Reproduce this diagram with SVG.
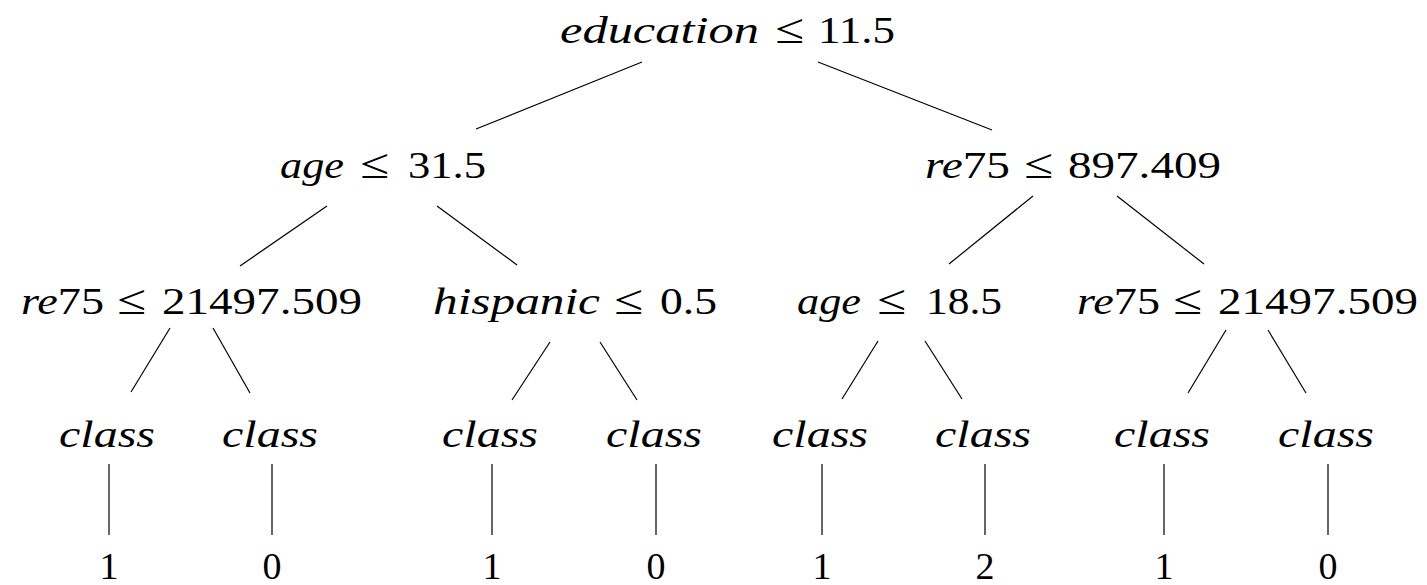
<svg xmlns="http://www.w3.org/2000/svg" width="1427" height="585" viewBox="0 0 1427 585">
<style>
text{font-family:"Liberation Serif","DejaVu Serif",serif;font-size:38px;fill:#000}
.i{font-style:italic}
.le{font-size:42px}
.leaf{text-anchor:middle}
#connectors line{stroke:#000;stroke-width:1.2}
</style>
<rect width="1427" height="585" fill="#fff"/>
<g id="connectors">
<line x1="642" y1="62" x2="476" y2="129"/>
<line x1="818" y1="62" x2="992" y2="130"/>
<line x1="327" y1="206" x2="240" y2="266"/>
<line x1="437" y1="206" x2="517" y2="265"/>
<line x1="1033" y1="196" x2="949" y2="264"/>
<line x1="1117" y1="196" x2="1204" y2="264"/>
<line x1="170" y1="328" x2="131" y2="392"/>
<line x1="213" y1="328" x2="250" y2="393"/>
<line x1="550" y1="342" x2="512" y2="400"/>
<line x1="600" y1="342" x2="637" y2="400"/>
<line x1="878" y1="341" x2="842" y2="399"/>
<line x1="925" y1="341" x2="962" y2="399"/>
<line x1="1226" y1="330" x2="1188" y2="393"/>
<line x1="1268" y1="330" x2="1306" y2="393"/>
<line x1="109" y1="464" x2="109" y2="535"/>
<line x1="272" y1="464" x2="272" y2="535"/>
<line x1="492" y1="464" x2="492" y2="535"/>
<line x1="656" y1="464" x2="656" y2="535"/>
<line x1="822" y1="464" x2="822" y2="535"/>
<line x1="985" y1="464" x2="985" y2="535"/>
<line x1="1164" y1="464" x2="1164" y2="535"/>
<line x1="1328" y1="464" x2="1328" y2="535"/>
</g>
<g id="n-root">
<text class="i" x="560" y="43" textLength="199" lengthAdjust="spacingAndGlyphs">education</text>
<text class="le" x="775" y="43" textLength="29" lengthAdjust="spacingAndGlyphs">≤</text>
<text x="818" y="43" textLength="77" lengthAdjust="spacingAndGlyphs">11.5</text>
</g>
<g id="n-age1">
<text class="i" x="280" y="178" textLength="64" lengthAdjust="spacingAndGlyphs">age</text>
<text class="le" x="360" y="178" textLength="29" lengthAdjust="spacingAndGlyphs">≤</text>
<text x="408" y="178" textLength="78" lengthAdjust="spacingAndGlyphs">31.5</text>
</g>
<g id="n-re75a">
<text x="925" y="178" textLength="85" lengthAdjust="spacingAndGlyphs"><tspan class="i">re</tspan>75</text>
<text class="le" x="1024" y="178" textLength="29" lengthAdjust="spacingAndGlyphs">≤</text>
<text x="1068" y="178" textLength="153" lengthAdjust="spacingAndGlyphs">897.409</text>
</g>
<g id="n-re75b">
<text x="21" y="314" textLength="83" lengthAdjust="spacingAndGlyphs"><tspan class="i">re</tspan>75</text>
<text class="le" x="117" y="314" textLength="29" lengthAdjust="spacingAndGlyphs">≤</text>
<text x="162" y="314" textLength="200" lengthAdjust="spacingAndGlyphs">21497.509</text>
</g>
<g id="n-hisp">
<text class="i" x="433" y="314" textLength="167" lengthAdjust="spacingAndGlyphs">hispanic</text>
<text class="le" x="614" y="314" textLength="29" lengthAdjust="spacingAndGlyphs">≤</text>
<text x="660" y="314" textLength="57" lengthAdjust="spacingAndGlyphs">0.5</text>
</g>
<g id="n-age2">
<text class="i" x="797" y="314" textLength="64" lengthAdjust="spacingAndGlyphs">age</text>
<text class="le" x="877" y="314" textLength="29" lengthAdjust="spacingAndGlyphs">≤</text>
<text x="926" y="314" textLength="76" lengthAdjust="spacingAndGlyphs">18.5</text>
</g>
<g id="n-re75c">
<text x="1077" y="314" textLength="83" lengthAdjust="spacingAndGlyphs"><tspan class="i">re</tspan>75</text>
<text class="le" x="1173" y="314" textLength="29" lengthAdjust="spacingAndGlyphs">≤</text>
<text x="1218" y="314" textLength="200" lengthAdjust="spacingAndGlyphs">21497.509</text>
</g>
<g id="n-c1"><text class="i" x="59" y="447" textLength="96" lengthAdjust="spacingAndGlyphs">class</text></g>
<g id="n-c2"><text class="i" x="222" y="447" textLength="96" lengthAdjust="spacingAndGlyphs">class</text></g>
<g id="n-c3"><text class="i" x="442" y="447" textLength="96" lengthAdjust="spacingAndGlyphs">class</text></g>
<g id="n-c4"><text class="i" x="606" y="447" textLength="96" lengthAdjust="spacingAndGlyphs">class</text></g>
<g id="n-c5"><text class="i" x="772" y="447" textLength="96" lengthAdjust="spacingAndGlyphs">class</text></g>
<g id="n-c6"><text class="i" x="935" y="447" textLength="96" lengthAdjust="spacingAndGlyphs">class</text></g>
<g id="n-c7"><text class="i" x="1114" y="447" textLength="96" lengthAdjust="spacingAndGlyphs">class</text></g>
<g id="n-c8"><text class="i" x="1278" y="447" textLength="96" lengthAdjust="spacingAndGlyphs">class</text></g>
<g id="n-l1"><text class="leaf" x="109" y="579">1</text></g>
<g id="n-l2"><text class="leaf" x="272" y="579">0</text></g>
<g id="n-l3"><text class="leaf" x="492" y="579">1</text></g>
<g id="n-l4"><text class="leaf" x="656" y="579">0</text></g>
<g id="n-l5"><text class="leaf" x="822" y="579">1</text></g>
<g id="n-l6"><text class="leaf" x="985" y="579">2</text></g>
<g id="n-l7"><text class="leaf" x="1164" y="579">1</text></g>
<g id="n-l8"><text class="leaf" x="1328" y="579">0</text></g>
</svg>
